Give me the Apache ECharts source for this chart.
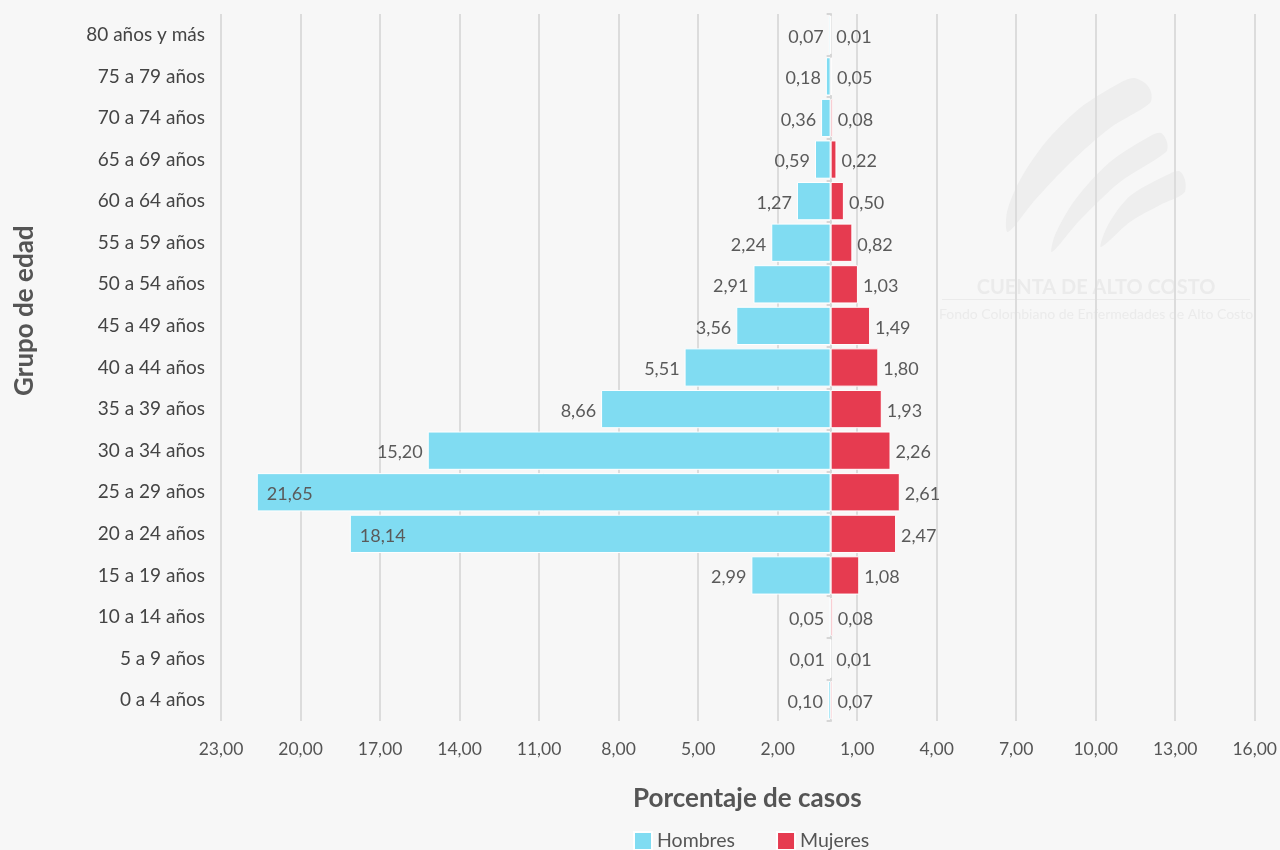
<!DOCTYPE html>
<html>
<head>
<meta charset="utf-8">
<script src="https://cdn.jsdelivr.net/npm/echarts@6/dist/echarts.min.js"></script>
<style>
html,body{margin:0;padding:0;background:#f7f7f7;}
#main{width:1280px;height:850px;}
</style>
</head>
<body>
<div id="main"></div>
<script>
const categories = ['80 años y más','75 a 79 años','70 a 74 años','65 a 69 años','60 a 64 años','55 a 59 años','50 a 54 años','45 a 49 años','40 a 44 años','35 a 39 años','30 a 34 años','25 a 29 años','20 a 24 años','15 a 19 años','10 a 14 años','5 a 9 años','0 a 4 años'];
const hombres = [0.07,0.18,0.36,0.59,1.27,2.24,2.91,3.56,5.51,8.66,15.20,21.65,18.14,2.99,0.05,0.01,0.10];
const mujeres = [0.01,0.05,0.08,0.22,0.50,0.82,1.03,1.49,1.80,1.93,2.26,2.61,2.47,1.08,0.08,0.01,0.07];
const tickLabels = ['23,00','20,00','17,00','14,00','11,00','8,00','5,00','2,00','1,00','4,00','7,00','10,00','13,00','16,00'];
const axisMin = -23, axisMax = 16;

const fmt = v => Math.abs(v).toFixed(2).replace('.', ',');
const FONT = 'Lato';
const LABEL_COLOR = '#5a5a5a';

const chart = echarts.init(document.getElementById('main'), null, {renderer:'canvas'});
const hombresData = hombres.map(v => ({
  value: -v,
  label: v > 16 ? {position:'insideLeft', distance: 10} : {position:'left', distance: 5}
}));

chart.setOption({
  backgroundColor: '#f7f7f7',
  animation: false,
  textStyle: {fontFamily: FONT},
  grid: {left: 221, right: 25, top: 14, bottom: 129, containLabel: false},
  legend: {
    data: ['Hombres','Mujeres'],
    left: 633, top: 831, padding: 0,
    itemWidth: 18, itemHeight: 18, itemGap: 41,
    icon: 'rect',
    textStyle: {fontSize: 19.5, color: '#555', fontFamily: FONT}
  },
  xAxis: [
    {type:'value', min: axisMin, max: axisMax, show: false},
    {type:'value', min: 0, max: axisMax - axisMin, interval: 3, position:'bottom',
     axisLine:{show:false}, axisTick:{show:false},
     splitLine:{show:true, lineStyle:{color:'#dcdcdc', width:2}},
     axisLabel:{formatter: v => tickLabels[Math.round(v/3)], fontSize:17.5, color:'#555', margin: 19, fontFamily: FONT}
    }
  ],
  yAxis: [
    {type:'category', data: categories, inverse: true,
     axisLine:{show:false}, axisTick:{show:false},
     axisLabel:{fontSize:19, color:'#444', margin: 16, fontFamily: FONT}},
    {type:'category', data: categories, inverse: true, position:'left',
     axisLine:{show:true, onZero:true, onZeroAxisIndex:0, lineStyle:{color:'#d6d6d6', width:2}},
     axisTick:{show:true, length:4, lineStyle:{color:'#d6d6d6', width:2}},
     axisLabel:{show:false}}
  ],
  series: [
    {name:'Hombres', type:'bar', xAxisIndex:0, yAxisIndex:0, data: hombresData,
     barGap:'-100%', barCategoryGap:'8%',
     itemStyle:{color:'#80dcf2', borderColor:'#ffffff', borderWidth:1},
     label:{show:true, formatter: p => fmt(p.value), fontSize:18, color:LABEL_COLOR, fontFamily: FONT, offset:[0,2]},
     z: 3},
    {name:'Mujeres', type:'bar', xAxisIndex:0, yAxisIndex:0, data: mujeres,
     barGap:'-100%', barCategoryGap:'8%',
     itemStyle:{color:'#e63b50', borderColor:'#ffffff', borderWidth:1},
     label:{show:true, position:'right', distance:5, formatter: p => fmt(p.value), fontSize:18, color:LABEL_COLOR, fontFamily: FONT, offset:[0,2]},
     z: 3}
  ],
  graphic: [
    {type:'text', left: 633, top: 786, style:{text:'Porcentaje de casos', fontSize:26, fontWeight:'bold', fill:'#555', fontFamily: FONT}},
    {type:'text', x: 12, y: 396, rotation: Math.PI/2, style:{text:'Grupo de edad', fontSize:26, fontWeight:'bold', fill:'#555', fontFamily: FONT}, z: 10},
    {type:'polygon', z: -1, silent: true, shape:{smooth:0.3, points:[[1008,232],[1035,200],[1070,163],[1110,128],[1150,103],[1151,92],[1145,83],[1133,78],[1118,84],[1080,108],[1045,143],[1020,180],[1007,212]]}, style:{fill:'#eeeeee'}},
    {type:'polygon', z: -1, silent: true, shape:{smooth:0.3, points:[[1052,252],[1080,220],[1120,182],[1166,152],[1167,142],[1161,133],[1152,135],[1110,162],[1075,200],[1055,235]]}, style:{fill:'#eeeeee'}},
    {type:'polygon', z: -1, silent: true, shape:{smooth:0.3, points:[[1101,247],[1130,222],[1160,205],[1184,193],[1185,180],[1179,171],[1165,176],[1130,196],[1108,225]]}, style:{fill:'#eeeeee'}},
    {type:'text', z: -1, silent: true, x: 1096, y: 288, style:{text:'CUENTA DE ALTO COSTO', fontSize:20, fontWeight:'bold', fill:'#ebebeb', align:'center', verticalAlign:'middle', fontFamily: FONT}},
    {type:'rect', z: -1, silent: true, shape:{x:942, y:299, width:308, height:1}, style:{fill:'#ebebeb'}},
    {type:'text', z: -1, silent: true, x: 1096, y: 314, style:{text:'Fondo Colombiano de Enfermedades de Alto Costo', fontSize:14, fill:'#ebebeb', align:'center', verticalAlign:'middle', fontFamily: FONT}}
  ]
});
</script>
</body>
</html>
